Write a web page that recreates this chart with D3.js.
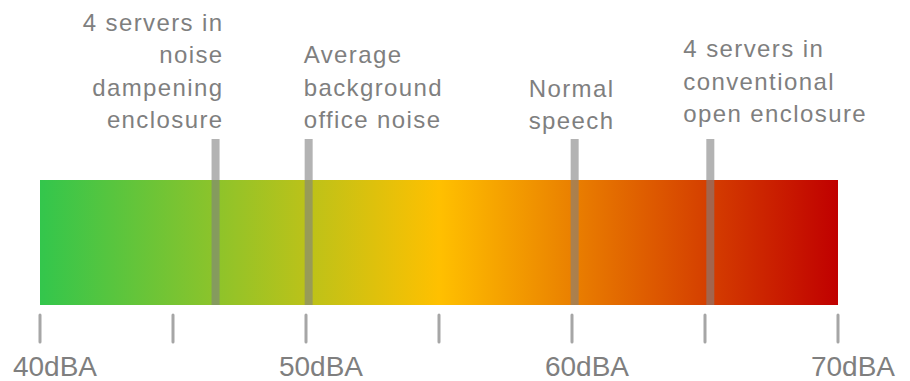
<!DOCTYPE html>
<html>
<head>
<meta charset="utf-8">
<script src="https://cdn.jsdelivr.net/npm/d3@7"></script>
<style>
  html, body { margin: 0; padding: 0; background: #ffffff; }
  svg { display: block; }
  text { font-family: "Liberation Sans", Arial, sans-serif; fill: #7f7f7f; }
</style>
</head>
<body>
<svg id="chart" width="910" height="381"></svg>
<script>
// Noise level scale, dBA
const domainDBA = [40, 70];
const tickValues = [40, 45, 50, 55, 60, 65, 70];
const tickLabels = ["40dBA", "", "50dBA", "", "60dBA", "", "70dBA"];

// Reference noise sources and their levels
const markerNames = [
  ["4 servers in", "noise", "dampening", "enclosure"],
  ["Average", "background", "office noise"],
  ["Normal", "speech"],
  ["4 servers in", "conventional", "open enclosure"]
];
const markerValues = [46.6, 50.1, 60.1, 65.2];

// Colour ramp across the scale (low to high)
const rampColors = ["#33c64c", "#ffc000", "#c00000"];

// Label layout per marker: anchor, horizontal shift from the marker, baseline of the last line
const labelLayout = [
  { anchor: "end",   dx: 8,   lastBaseline: 128 },
  { anchor: "start", dx: -5,  lastBaseline: 128 },
  { anchor: "start", dx: -46, lastBaseline: 129 },
  { anchor: "start", dx: -27, lastBaseline: 122 }
];

const svg = d3.select("#chart");
const barTop = 180, barBottom = 305;
const x = d3.scaleLinear().domain(domainDBA).range([40, 838]);

// gradient definition
const defs = svg.append("defs");
const grad = defs.append("linearGradient")
  .attr("id", "noiseRamp")
  .attr("x1", "0%").attr("x2", "100%").attr("y1", "0%").attr("y2", "0%");
grad.selectAll("stop")
  .data(rampColors)
  .join("stop")
  .attr("offset", (d, i) => (i / (rampColors.length - 1) * 100) + "%")
  .attr("stop-color", d => d);

// the colour bar
svg.append("rect")
  .attr("x", x(domainDBA[0]))
  .attr("y", barTop)
  .attr("width", x(domainDBA[1]) - x(domainDBA[0]))
  .attr("height", barBottom - barTop)
  .attr("fill", "url(#noiseRamp)");

// marker bars
svg.append("g")
  .selectAll("rect")
  .data(markerValues)
  .join("rect")
  .attr("x", d => x(d) - 4)
  .attr("y", 139)
  .attr("width", 8)
  .attr("height", barBottom - 139)
  .attr("fill", "#808080")
  .attr("fill-opacity", 0.6);

// marker labels
const labels = svg.append("g")
  .selectAll("text")
  .data(markerNames.map((lines, i) => ({ lines, value: markerValues[i], layout: labelLayout[i] })))
  .join("text")
  .attr("text-anchor", d => d.layout.anchor)
  .style("font-size", "24px")
  .style("letter-spacing", "1.4px");

labels.selectAll("tspan")
  .data(d => d.lines.map((line, j) => ({
    line,
    x: x(d.value) + d.layout.dx,
    y: d.layout.lastBaseline - (d.lines.length - 1 - j) * 32.3
  })))
  .join("tspan")
  .attr("x", d => d.x)
  .attr("y", d => d.y)
  .text(d => d.line);

// axis ticks
const axis = svg.append("g");
axis.selectAll("line")
  .data(tickValues)
  .join("line")
  .attr("x1", d => x(d)).attr("x2", d => x(d))
  .attr("y1", 315).attr("y2", 342)
  .attr("stroke", "#a6a6a6")
  .attr("stroke-width", 3)
  .attr("stroke-linecap", "round");

axis.selectAll("text")
  .data(tickValues.map((v, i) => ({ v, label: tickLabels[i] })).filter(d => d.label))
  .join("text")
  .attr("x", d => x(d.v) + 15)
  .attr("y", 376)
  .attr("text-anchor", "middle")
  .style("font-size", "28px")
  .text(d => d.label);
</script>
</body>
</html>
